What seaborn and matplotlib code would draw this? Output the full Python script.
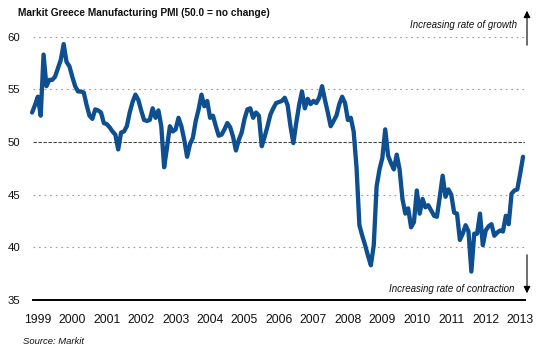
import numpy as np
import pandas as pd
import matplotlib
matplotlib.use("Agg")
import matplotlib.pyplot as plt
import seaborn as sns

# Monthly PMI, May 1999 .. Aug 2013
start_year = 1999
start_month = 5
pmi = [
    52.8, 53.5, 54.3, 52.5, 58.3, 55.3, 55.9, 55.9, 56.2, 57.0, 57.8, 59.3,
    57.6, 57.2, 56.2, 55.3, 54.8, 54.8, 54.7, 53.5, 52.5, 52.2, 53.1, 53.0,
    52.8, 51.8, 51.7, 51.4, 51.0, 50.7, 49.3, 50.9, 51.0, 51.5, 52.8, 53.8,
    54.5, 54.0, 53.0, 52.1, 52.0, 52.1, 53.2, 52.3, 53.0, 51.5, 47.6, 49.5,
    51.5, 51.0, 51.2, 52.3, 51.5, 50.2, 48.6, 49.8, 50.4, 52.0, 53.1, 54.5,
    53.4, 53.9, 52.3, 52.5, 51.5, 50.6, 50.7, 51.2, 51.8, 51.4, 50.5, 49.2,
    50.2, 50.9, 52.2, 53.1, 53.2, 52.3, 52.8, 52.5, 49.6, 50.5, 51.5, 52.6,
    53.2, 53.7, 53.8, 53.9, 54.2, 53.5, 51.5, 49.9, 51.8, 53.5, 54.8, 53.2,
    54.1, 53.6, 53.9, 53.7, 54.2, 55.3, 54.0, 52.8, 51.5, 52.0, 52.5, 53.6,
    54.3, 53.7, 52.1, 52.3, 51.0, 47.6, 42.1, 41.1, 40.2, 39.2, 38.3, 40.2,
    45.8, 47.4, 48.5, 51.2, 48.7, 48.0, 47.4, 48.8, 47.4, 44.6, 43.2, 43.7,
    41.9, 42.4, 45.4, 43.2, 44.6, 43.8, 44.0, 43.5, 43.0, 42.9, 44.8, 46.8,
    44.8, 45.5, 45.0, 43.3, 43.2, 40.7, 41.3, 42.1, 41.5, 37.7, 41.3, 41.3,
    43.2, 40.2, 41.6, 42.0, 42.2, 41.1, 41.4, 41.6, 41.5, 43.0, 42.2, 45.1,
    45.4, 45.5, 47.0, 48.6,
]
years = list(range(1999, 2014))
y_ticks = [35, 40, 45, 50, 55, 60]

months_idx = np.arange(len(pmi))
t = start_year + (start_month - 1 + months_idx) / 12.0
df = pd.DataFrame({"t": t, "pmi": pmi})

sns.set_style("white")
plt.rcParams["font.family"] = ["Liberation Sans", "DejaVu Sans"]

W, H = 548, 346
fig = plt.figure(figsize=(W / 100, H / 100), dpi=100)
ax_left, ax_right = 33 / W, 525 / W
ax_top, ax_bot = 1 - 36.7 / H, 1 - 300 / H
ax = fig.add_axes([ax_left, ax_bot, ax_right - ax_left, ax_top - ax_bot])

# grid lines
for v in [40, 45, 55, 60]:
    ax.axhline(v, color="#9a9a9a", lw=0.8, ls=(0, (1.5, 3.5)), zorder=1)
ax.axhline(50, color="#444444", lw=0.8, ls=(0, (3, 1.5)), zorder=1)

sns.lineplot(data=df, x="t", y="pmi", ax=ax, color="#0d4f91", lw=3.1,
             zorder=3, clip_on=False)

ax.set_xlim(1999.36, 2013.64)
ax.set_ylim(35, 60)
ax.set_xlabel("")
ax.set_ylabel("")

for s in ["left", "right", "top"]:
    ax.spines[s].set_visible(False)
ax.spines["bottom"].set_color("black")
ax.spines["bottom"].set_linewidth(1.4)

# year boundary ticks, labels centred in year
ax.set_xticks([y for y in years[1:]])
ax.set_xticklabels([])
ax.set_xticks([y + 0.5 for y in years], minor=True)
ax.set_xticklabels([str(y) for y in years], minor=True)
ax.tick_params(axis="x", which="major", length=11, width=1.1, color="#555555",
               direction="out")
ax.tick_params(axis="x", which="minor", length=0, pad=10, labelsize=8.7,
               labelcolor="#111111")

ax.set_yticks(y_ticks)
ax.set_yticklabels([str(v) for v in y_ticks])
ax.tick_params(axis="y", length=0, pad=9, labelsize=8.2, labelcolor="#111111")

# title and source
fig.text(18 / W, 1 - 13 / H, "Markit Greece Manufacturing PMI (50.0 = no change)",
         fontsize=7.3, fontweight="bold", ha="left", va="center", color="#111111")
fig.text(23 / W, 1 - 341 / H, "Source: Markit", fontsize=6.8, style="italic",
         ha="left", va="center", color="#111111")

# arrows and annotations
ax.annotate("", xy=(527 / W, 1 - 8 / H), xytext=(527 / W, 1 - 48 / H),
            xycoords="figure fraction", textcoords="figure fraction",
            arrowprops=dict(arrowstyle="-|>", color="black", lw=0.8,
                            mutation_scale=10))
ax.annotate("", xy=(527 / W, 1 - 296 / H), xytext=(527 / W, 1 - 252 / H),
            xycoords="figure fraction", textcoords="figure fraction",
            arrowprops=dict(arrowstyle="-|>", color="black", lw=0.8,
                            mutation_scale=10))
fig.text(517 / W, 1 - 25 / H, "Increasing rate of growth", fontsize=7,
         style="italic", ha="right", va="center", color="#111111")
fig.text(514 / W, 1 - 289 / H, "Increasing rate of contraction", fontsize=7,
         style="italic", ha="right", va="center", color="#111111")

fig.savefig("out.png", dpi=100)
